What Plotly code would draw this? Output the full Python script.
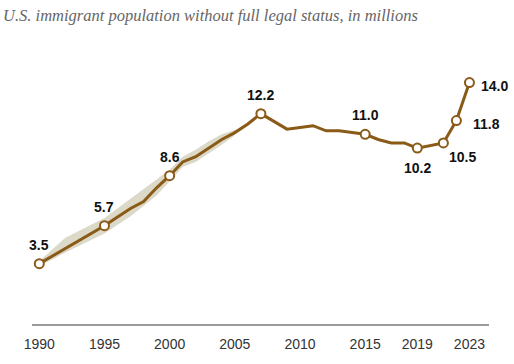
import plotly.graph_objects as go

# Main series (millions)
years = [1990, 1995, 1996, 1997, 1998, 1999, 2000, 2001, 2002, 2003, 2004, 2005, 2006, 2007,
         2008, 2009, 2010, 2011, 2012, 2013, 2014, 2015, 2016, 2017, 2018, 2019, 2021, 2022, 2023]
values = [3.5, 5.7, 6.2, 6.7, 7.1, 7.9, 8.6, 9.4, 9.7, 10.2, 10.7, 11.1, 11.6, 12.2,
          11.75, 11.3, 11.4, 11.5, 11.2, 11.2, 11.1, 11.0, 10.7, 10.5, 10.5, 10.2, 10.5, 11.8, 14.0]

# Uncertainty band
band_years = [1990, 1992, 1995, 1997, 1999, 2000, 2001, 2002, 2003, 2004, 2005]
band_low = [3.35, 4.15, 5.25, 6.25, 7.45, 8.25, 9.1, 9.4, 9.9, 10.4, 10.95]
band_high = [3.65, 5.0, 6.15, 7.25, 8.35, 8.95, 9.7, 10.1, 10.6, 11.0, 11.25]

# Labelled points
label_years = [1990, 1995, 2000, 2007, 2015, 2019, 2021, 2022, 2023]
label_values = [3.5, 5.7, 8.6, 12.2, 11.0, 10.2, 10.5, 11.8, 14.0]
label_text = ["3.5", "5.7", "8.6", "12.2", "11.0", "10.2", "10.5", "11.8", "14.0"]
label_pos = ["above", "above", "above", "above", "above", "below", "belowright", "right", "right2"]

tick_vals = [1990, 1995, 2000, 2005, 2010, 2015, 2019, 2023]
tick_text = ["1990", "1995", "2000", "2005", "2010", "2015", "2019", "2023"]

title_text = "U.S. immigrant population without full legal status, in millions"

LINE = "#8a5a17"

fig = go.Figure()
fig.add_trace(go.Scatter(x=band_years + band_years[::-1], y=band_high + band_low[::-1],
                         fill="toself", fillcolor="rgba(196,192,165,0.6)",
                         line=dict(width=0), mode="lines", hoverinfo="skip", showlegend=False))
fig.add_trace(go.Scatter(x=years, y=values, mode="lines",
                         line=dict(color=LINE, width=3), showlegend=False))
fig.add_trace(go.Scatter(x=label_years, y=label_values, mode="markers",
                         marker=dict(size=9, color="white", line=dict(color=LINE, width=2)),
                         showlegend=False))

shifts = {"above": (0, 19), "below": (0, -20), "belowright": (19, -14),
          "right": (30, -3), "right2": (25, -3)}
annotations = []
for x, y, t, p in zip(label_years, label_values, label_text, label_pos):
    dx, dy = shifts[p]
    annotations.append(dict(x=x, y=y, text="<b>%s</b>" % t, showarrow=False, xshift=dx, yshift=dy,
                            font=dict(family="Liberation Sans, Arial", size=14, color="#111")))

annotations.append(dict(
    text="<i>%s</i>" % title_text, xref="paper", yref="paper", x=-0.0678, y=1.128,
    xanchor="left", yanchor="top", showarrow=False,
    font=dict(family="Liberation Serif, Georgia, serif", size=16.5, color="#666")))

fig.update_layout(
    width=514, height=364,
    margin=dict(l=32, r=25, t=40, b=37),
    paper_bgcolor="white", plot_bgcolor="white",
    annotations=annotations,
    xaxis=dict(range=[1989.44, 2024.5], tickvals=tick_vals, ticktext=tick_text,
               showgrid=False, zeroline=False, showline=True, linecolor="#9a9a9a", linewidth=1.5,
               ticks="outside", ticklen=6, tickcolor="rgba(0,0,0,0)",
               tickfont=dict(family="Liberation Sans, Arial", size=14, color="#333")),
    yaxis=dict(range=[0, 16.47], visible=False),
)

fig.write_html("out.html", config={"displayModeBar": False},
               post_script="document.body.style.margin='0';document.body.style.overflow='hidden';")
